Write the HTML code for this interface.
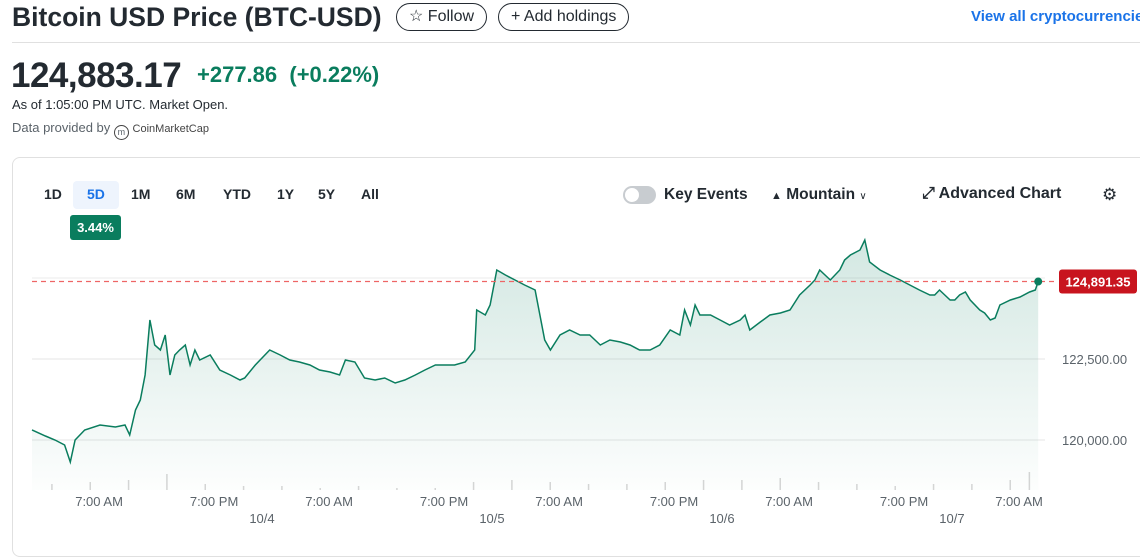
<!DOCTYPE html>
<html><head><meta charset="utf-8">
<style>
*{box-sizing:border-box;margin:0;padding:0}
body{width:1140px;height:529px;overflow:hidden;background:#fff;font-family:"Liberation Sans",sans-serif;color:#232a31;position:relative}
.abs{position:absolute;white-space:nowrap}
.pill{position:absolute;border:1px solid #232a31;border-radius:14px;height:28px;font-size:16px;line-height:26px;padding:0 12px}
.rng{position:absolute;top:186px;font-size:14px;font-weight:bold;color:#232a31}
</style></head><body>
<div class="abs" style="left:12px;top:2px;font-size:26.5px;font-weight:bold">Bitcoin USD Price (BTC-USD)</div>
<div class="pill" style="left:396px;top:3px">☆ Follow</div>
<div class="pill" style="left:498px;top:3px">+ Add holdings</div>
<div class="abs" style="left:971px;top:8px;font-size:15px;font-weight:bold;color:#1a73e8">View all cryptocurrencies</div>
<div class="abs" style="left:12px;top:42px;width:1128px;height:1px;background:#e0e0e0"></div>
<div class="abs" style="left:11px;top:56px;font-size:35px;font-weight:bold;letter-spacing:-0.5px">124,883.17</div>
<div class="abs" style="left:197px;top:62px;font-size:22px;font-weight:bold;color:#0a7d5e">+277.86 &nbsp;(+0.22%)</div>
<div class="abs" style="left:12px;top:97px;font-size:13px">As of 1:05:00 PM UTC. Market Open.</div>
<div class="abs" style="left:12px;top:120px;font-size:13px;color:#5b636a">Data provided by <span style="display:inline-block;width:15px;height:15px;border:1.5px solid #444;border-radius:50%;vertical-align:-3px;font-size:9px;text-align:center;line-height:12px">m</span> <span style="font-size:11px;color:#444">CoinMarketCap</span></div>
<div class="abs" style="left:12px;top:157px;width:1140px;height:400px;border:1px solid #e0e0e0;border-radius:8px"></div>
<div class="abs" style="left:73px;top:181px;width:46px;height:28px;background:#eef4fd;border-radius:4px"></div>
<div class="rng" style="left:44px">1D</div>
<div class="rng" style="left:87px;color:#1a73e8">5D</div>
<div class="rng" style="left:131px">1M</div>
<div class="rng" style="left:176px">6M</div>
<div class="rng" style="left:223px">YTD</div>
<div class="rng" style="left:277px">1Y</div>
<div class="rng" style="left:318px">5Y</div>
<div class="rng" style="left:361px">All</div>
<div class="abs" style="left:70px;top:215px;width:51px;height:25px;background:#0a7d5e;color:#fff;border-radius:3px;font-size:13px;font-weight:bold;text-align:center;line-height:25px">3.44%</div>
<div class="abs" style="left:623px;top:186px;width:33px;height:18px;background:#c8ccd0;border-radius:9px"><div style="margin:2px;width:14px;height:14px;border-radius:50%;background:#fff"></div></div>
<div class="abs" style="left:664px;top:186px;font-size:15.5px;font-weight:bold">Key Events</div>
<div class="abs" style="left:771px;top:186px;font-size:15.5px;font-weight:bold"><span style="font-size:11px">▲</span> Mountain <span style="font-size:10px;font-weight:normal">&#8744;</span></div>
<div class="abs" style="left:922px;top:185px;font-size:16px;font-weight:bold">⤢ Advanced Chart</div>
<div class="abs" style="left:1102px;top:185px;font-size:17px">⚙</div>
<svg id="chart" class="abs" style="left:0;top:0" width="1140" height="529">
<defs><linearGradient id="g" x1="0" y1="0" x2="0" y2="1"><stop offset="0" stop-color="#0a7d5e" stop-opacity="0.18"/><stop offset="1" stop-color="#0a7d5e" stop-opacity="0.01"/></linearGradient></defs>
</svg>
<script>
const hours=[0,1.4,2.4,3.4,4.0,4.5,5.5,7.1,8.7,9.7,10.2,10.8,11.3,11.8,12.3,12.8,13.4,13.9,14.4,14.9,15.4,16.0,16.5,17.0,17.5,18.6,19.6,20.7,21.7,22.2,23.3,24.3,24.8,25.9,26.9,27.9,29.0,30.0,31.1,32.1,32.7,33.7,34.7,35.8,36.8,37.9,38.9,40.0,41.0,42.1,43.1,44.1,45.2,46.2,46.4,47.3,47.8,48.5,49.4,50.4,51.4,52.5,53.5,54.1,55.1,56.1,57.2,58.2,59.3,60.3,61.4,62.4,63.4,64.5,65.5,66.6,67.6,68.1,68.7,69.2,69.7,70.8,71.8,72.8,73.9,74.4,74.9,76.0,77.0,78.1,79.1,80.1,81.2,81.7,82.2,83.3,84.3,84.8,85.4,86.4,86.9,87.4,88.5,89.5,90.6,91.6,92.6,93.7,94.2,94.7,95.8,96.3,96.8,97.4,97.9,98.9,99.4,100.0,100.5,101.0,102.1,103.1,104.1,104.7,105.0];
const prices=[120309,120124,120000,119846,119321,120000,120309,120463,120402,120463,120155,120926,121235,122006,123704,122932,122778,123241,122006,122623,122778,122932,122315,122778,122469,122623,122161,122006,121852,121914,122315,122623,122778,122623,122469,122407,122315,122161,122099,122006,122469,122407,121914,121852,121914,121759,121852,122006,122161,122315,122315,122315,122407,122778,124012,123858,124166,125247,125092,124938,124784,124629,123086,122778,123241,123395,123241,123241,122932,123086,123025,122932,122778,122778,122932,123395,123241,124012,123549,124166,123858,123858,123704,123549,123704,123858,123395,123642,123858,123920,124012,124475,124784,124938,125247,124938,125247,125555,125709,125864,126172,125493,125247,125092,124938,124784,124629,124475,124475,124629,124321,124321,124475,124568,124321,124012,123920,123704,123765,124166,124321,124413,124568,124629,124891];
const volHours=[2,6,10,14,18,22,26,30,34,38,42,46,50,54,58,62,66,70,74,78,82,86,90,94,98,102,104];
const vols=[3,4,5,8,3,2,2,1,2,1,1,4,5,4,3,3,4,5,5,6,4,3,2,3,3,5,9];
const yTicks=[122500,120000];
const xTickHours=[7,19,31,43,55,67,79,91,103];
const xTickLabels=["7:00 AM","7:00 PM","7:00 AM","7:00 PM","7:00 AM","7:00 PM","7:00 AM","7:00 PM","7:00 AM"];
const dateHours=[24,48,72,96];
const dateLabels=["10/4","10/5","10/6","10/7"];
const lastPrice=124891.35;

const NS="http://www.w3.org/2000/svg";
const svg=document.getElementById('chart');
const x=h=>32+h*9.583;
const y=p=>359-(p-122500)*0.0324;
function mk(t,a){const e=document.createElementNS(NS,t);for(const k in a)e.setAttribute(k,a[k]);svg.appendChild(e);return e;}
let g=mk('line',{x1:32,x2:1045,y1:y(125000),y2:y(125000),stroke:'#ebebeb'});


yTicks.forEach(v=>{
 const l=mk('line',{x1:32,x2:1045,y1:y(v),y2:y(v),stroke:'#e6e6e6'});
 
 
 const t=mk('text',{x:1062,y:y(v)+5,'font-size':13,fill:'#5b636a'});
 t.textContent=v.toLocaleString('en-US',{minimumFractionDigits:2});
 
 
});
volHours.forEach((h,i)=>{
 const r=mk('rect',{x:x(h),y:490-vols[i]*2,width:1.5,height:vols[i]*2,fill:'#d6d6d6'});
 
 
});
let d='M'+x(hours[0])+','+y(prices[0]);
for(let i=1;i<hours.length;i++)d+=' L'+x(hours[i]).toFixed(1)+','+y(prices[i]).toFixed(1);
const area=mk('path',{d:d+' L'+x(hours[hours.length-1])+',490 L'+x(0)+',490 Z',fill:'url(#g)'});


const line=mk('path',{d:d,fill:'none',stroke:'#0a7d5e','stroke-width':1.5});


const ref=mk('line',{x1:32,x2:1058,y1:y(lastPrice),y2:y(lastPrice),stroke:'#ee6666','stroke-dasharray':'5,4','stroke-width':1.2});


const dot=mk('circle',{cx:x(hours[hours.length-1]),cy:y(prices[prices.length-1]),r:4,fill:'#0a7d5e'});


const tag=mk('rect',{x:1059,y:y(lastPrice)-12,width:78,height:24,rx:3,fill:'#c8141e'});


const tt=mk('text',{x:1098,y:y(lastPrice)+5,'font-size':13,'font-weight':'bold',fill:'#fff','text-anchor':'middle'});
tt.textContent=lastPrice.toLocaleString('en-US',{minimumFractionDigits:2});


xTickHours.forEach((h,i)=>{
 const t=mk('text',{x:x(h),y:506,'font-size':13,fill:'#5b636a','text-anchor':'middle'});
 t.textContent=xTickLabels[i];
 
 
});
dateHours.forEach((h,i)=>{
 const t=mk('text',{x:x(h),y:523,'font-size':13,fill:'#5b636a','text-anchor':'middle'});
 t.textContent=dateLabels[i];
 
 
});
</script>
</body></html>
